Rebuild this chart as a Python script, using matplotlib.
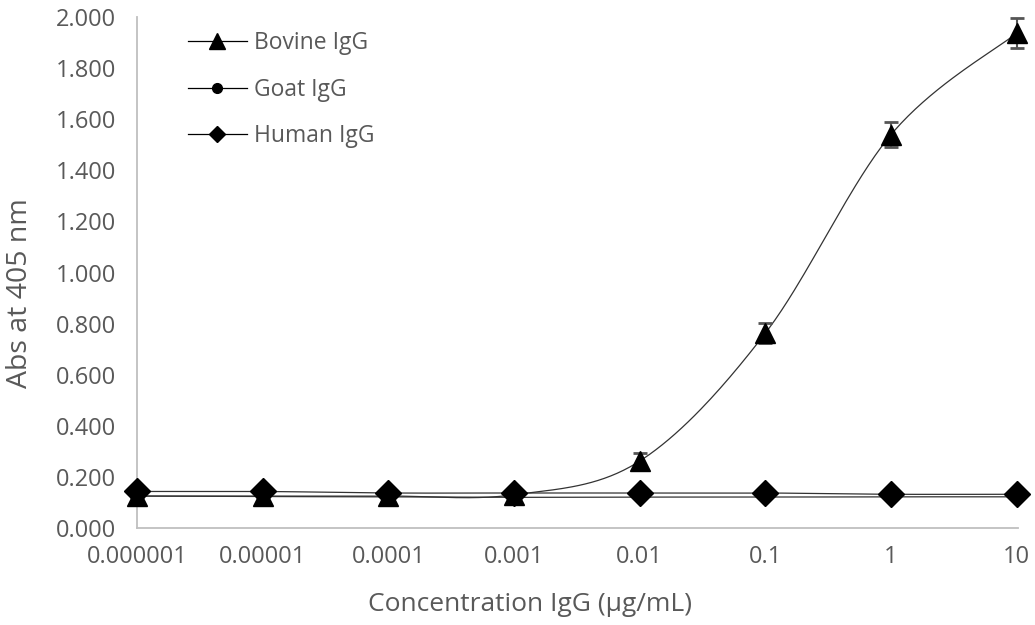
import numpy as np
import matplotlib
matplotlib.use('Agg')
import matplotlib.pyplot as plt
from matplotlib.lines import Line2D

# --- dados ---
concentracoes = ['0.000001', '0.00001', '0.0001', '0.001', '0.01', '0.1', '1', '10']
bovine = [0.125, 0.125, 0.125, 0.130, 0.262, 0.763, 1.540, 1.937]
bovine_err = [0.005, 0.005, 0.005, 0.005, 0.030, 0.040, 0.050, 0.060]
goat = [0.125, 0.123, 0.122, 0.120, 0.121, 0.121, 0.122, 0.122]
human = [0.143, 0.143, 0.137, 0.137, 0.137, 0.137, 0.132, 0.132]

cinza = '#595959'
plt.rcParams['font.family'] = ['Open Sans', 'DejaVu Sans']


def suavizar(xs, ys, n=40):
    """Curva suave estilo Excel (Bezier com controle = (P2-P0)/6)."""
    pts = np.column_stack([xs, ys]).astype(float)
    out = [pts[0]]
    for i in range(len(pts) - 1):
        p0 = pts[i - 1] if i > 0 else pts[i]
        p1 = pts[i]
        p2 = pts[i + 1]
        p3 = pts[i + 2] if i + 2 < len(pts) else pts[i + 1]
        c1 = p1 + (p2 - p0) / 6.0
        c2 = p2 - (p3 - p1) / 6.0
        t = np.linspace(0, 1, n)[1:, None]
        seg = ((1 - t) ** 3) * p1 + 3 * ((1 - t) ** 2) * t * c1 + 3 * (1 - t) * t ** 2 * c2 + t ** 3 * p2
        out.extend(seg)
    out = np.array(out)
    return out[:, 0], out[:, 1]


fig = plt.figure(figsize=(10.35, 6.25), dpi=100)
ax = fig.add_axes([0.1324, 0.1552, 0.8512, 0.8176])

x = np.arange(len(concentracoes))

series = [
    (human, 'D', 13, 'Human IgG'),
    (goat, 'o', 8, 'Goat IgG'),
    (bovine, '^', 15, 'Bovine IgG'),
]
for ys, mk, ms, nome in series:
    sx, sy = suavizar(x, ys)
    ax.plot(sx, sy, color='#333333', lw=0.9, clip_on=False, zorder=2)

ax.errorbar(x, bovine, yerr=bovine_err, fmt='none', ecolor='#555555',
            elinewidth=1.5, capsize=5, capthick=2, zorder=3, clip_on=False)

for ys, mk, ms, nome in series:
    ax.plot(x, ys, linestyle='none', marker=mk, markersize=ms, color='black',
            clip_on=False, zorder=4)

ax.set_xlim(0, 7.01)
ax.set_ylim(0, 2.0)
ax.set_xticks(x)
ax.set_xticklabels(concentracoes)
ax.set_yticks(np.arange(0, 2.001, 0.2))
ax.set_yticklabels([f'{v:.3f}' for v in np.arange(0, 2.001, 0.2)])

for lado in ['top', 'right']:
    ax.spines[lado].set_visible(False)
for lado in ['left', 'bottom']:
    ax.spines[lado].set_color('#bfbfbf')
    ax.spines[lado].set_linewidth(1.3)
ax.tick_params(length=0, labelsize=17, colors=cinza, pad=15)
ax.tick_params(axis='x', pad=12)

ax.set_xlabel('Concentration IgG (µg/mL)', fontsize=19, color=cinza)
ax.set_ylabel('Abs at 405 nm', fontsize=20.5, color=cinza)
ax.xaxis.set_label_coords(0.446, -0.125)
ax.yaxis.set_label_coords(-0.117, 0.46)

handles = [
    Line2D([], [], color='black', lw=0.9, marker='^', markersize=11),
    Line2D([], [], color='black', lw=0.9, marker='o', markersize=7),
    Line2D([], [], color='black', lw=0.9, marker='D', markersize=8),
]
leg = ax.legend(handles, ['Bovine IgG', 'Goat IgG', 'Human IgG'], loc='upper left',
                bbox_to_anchor=(0.034, 1.012), frameon=False, fontsize=16.5,
                handlelength=2.6, labelspacing=0.98, handletextpad=0.3)
for t in leg.get_texts():
    t.set_color(cinza)

fig.savefig('out.png', dpi=100)
